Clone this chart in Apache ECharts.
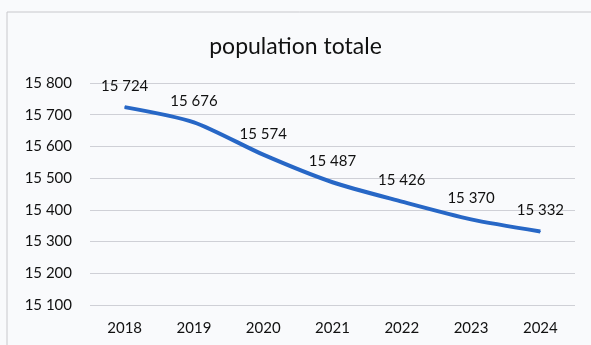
<!DOCTYPE html>
<html>
<head>
<meta charset="utf-8">
<script src="https://cdn.jsdelivr.net/npm/echarts@6/dist/echarts.min.js"></script>
<style>
  html, body { margin: 0; padding: 0; background: #f9fafc; }
  #chart { width: 591px; height: 345px; }
</style>
</head>
<body>
<div id="chart"></div>
<script>
// chart data
const years = ['2018', '2019', '2020', '2021', '2022', '2023', '2024'];
const population = [15724, 15676, 15574, 15487, 15426, 15370, 15332];
const yMin = 15100;
const yMax = 15800;
const yStep = 100;

// "15724" -> "15 724"
const fmt = v => String(v).replace(/\B(?=(\d{3})+(?!\d))/g, ' ');

const chart = echarts.init(document.getElementById('chart'));

chart.setOption({
  backgroundColor: '#f9fafc',
  textStyle: { fontFamily: 'Lato, "Open Sans", sans-serif' },
  title: {
    text: 'population totale',
    left: 'center',
    top: 30,
    textStyle: { fontSize: 23, fontWeight: 'normal', color: '#111', fontFamily: 'Lato, sans-serif' }
  },
  graphic: [{
    type: 'rect',
    shape: { x: 7, y: 12, width: 600, height: 345 },
    style: { fill: 'none', stroke: '#c8c8cc', lineWidth: 1 },
    silent: true
  }],
  grid: { left: 90, right: 16, top: 83, bottom: 40 },
  xAxis: {
    type: 'category',
    data: years,
    boundaryGap: true,
    axisLine: { show: false },
    axisTick: { show: false },
    axisLabel: { color: '#111', fontSize: 15, margin: 16 }
  },
  yAxis: {
    type: 'value',
    min: yMin,
    max: yMax,
    interval: yStep,
    axisLine: { show: false },
    axisTick: { show: false },
    axisLabel: { color: '#111', fontSize: 15, margin: 18, formatter: fmt },
    splitLine: { lineStyle: { color: '#cfd0d6', width: 1 } }
  },
  series: [{
    type: 'line',
    data: population,
    smooth: 0.25,
    symbol: 'circle',
    symbolSize: 1,
    lineStyle: { color: '#2767c6', width: 4 },
    itemStyle: { color: '#2767c6' },
    label: {
      show: true,
      position: 'top',
      distance: 13,
      color: '#111',
      fontSize: 15,
      formatter: p => fmt(p.value)
    }
  }]
});
</script>
</body>
</html>
